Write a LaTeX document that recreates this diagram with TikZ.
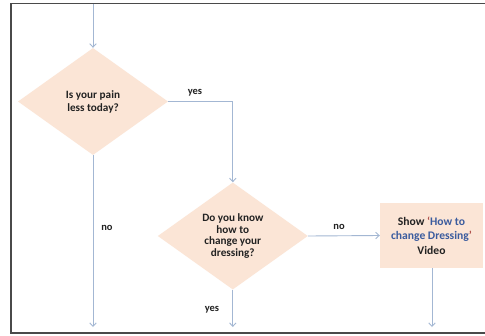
\documentclass[tikz,border=0pt]{standalone}
\usepackage{fontspec}
\setmainfont{Carlito}
\usetikzlibrary{shapes.geometric,arrows.meta}
\definecolor{peach}{HTML}{FBE5D6}
\definecolor{connc}{HTML}{A3B7D3}
\definecolor{txt}{HTML}{222222}
\definecolor{blu}{HTML}{3B5C9E}
\definecolor{quo}{HTML}{B0504A}
\definecolor{framec}{HTML}{4A4A4A}
\begin{document}
\begin{tikzpicture}[x=1pt,y=-1pt,
  decision/.style={diamond, fill=peach, inner sep=0pt, shape aspect=1.4,
    minimum width=150pt, minimum height=107pt, align=center, text=txt},
  procbox/.style={rectangle, fill=peach, inner sep=0pt, minimum width=103pt,
    minimum height=65pt, align=center, text=txt,
    font=\fontsize{11.6}{14.5}\selectfont\bfseries},
  lbl/.style={text=txt, inner sep=0pt, font=\fontsize{10.5}{12}\selectfont\bfseries},
  conn/.style={draw=connc, line width=0.9pt, -{Straight Barb[length=3.5pt,width=6.5pt]}}
]
\useasboundingbox (0,0) rectangle (485,335);
\fill[white] (0,0) rectangle (485,335);

\node[decision, font=\fontsize{11.2}{13}\selectfont\bfseries] (d1) at (93,101.5) {Is your pain\\less today?};
\node[decision, font=\fontsize{11.2}{11.7}\selectfont\bfseries] (d2) at (232.8,236) {Do you know\\how to\\change your\\dressing?};
\node[procbox] (box) at (431.5,235.5) {Show {\color{quo}‘}{\color{blu}How to}\\{\color{blu}change Dressing}{\color{quo}’}\\Video};

\coordinate (top) at (93,3.5);
\coordinate (e1) at (93,327);
\coordinate (e2) at (232.8,327);
\coordinate (e3) at (432,327);
\coordinate (b3) at (432,268);

\draw[conn] (top) -- (d1.north);
\draw[conn] (d1.east) -| (d2.north);
\draw[conn] (d1.south) -- (e1);
\draw[conn] (d2.east) -- (box.west);
\draw[conn] (d2.south) -- (e2);
\draw[conn] (b3) -- (e3);

\node[lbl] (lyes1) at (195,93) {yes};
\node[lbl] (lno1) at (107,228) {no};
\node[lbl] (lno2) at (339,227) {no};
\node[lbl] (lyes2) at (212,310) {yes};

\draw[framec, line width=1.8pt] (485,3.5) -- (11,3.5) -- (11,333) -- (485,333);
\end{tikzpicture}
\end{document}
